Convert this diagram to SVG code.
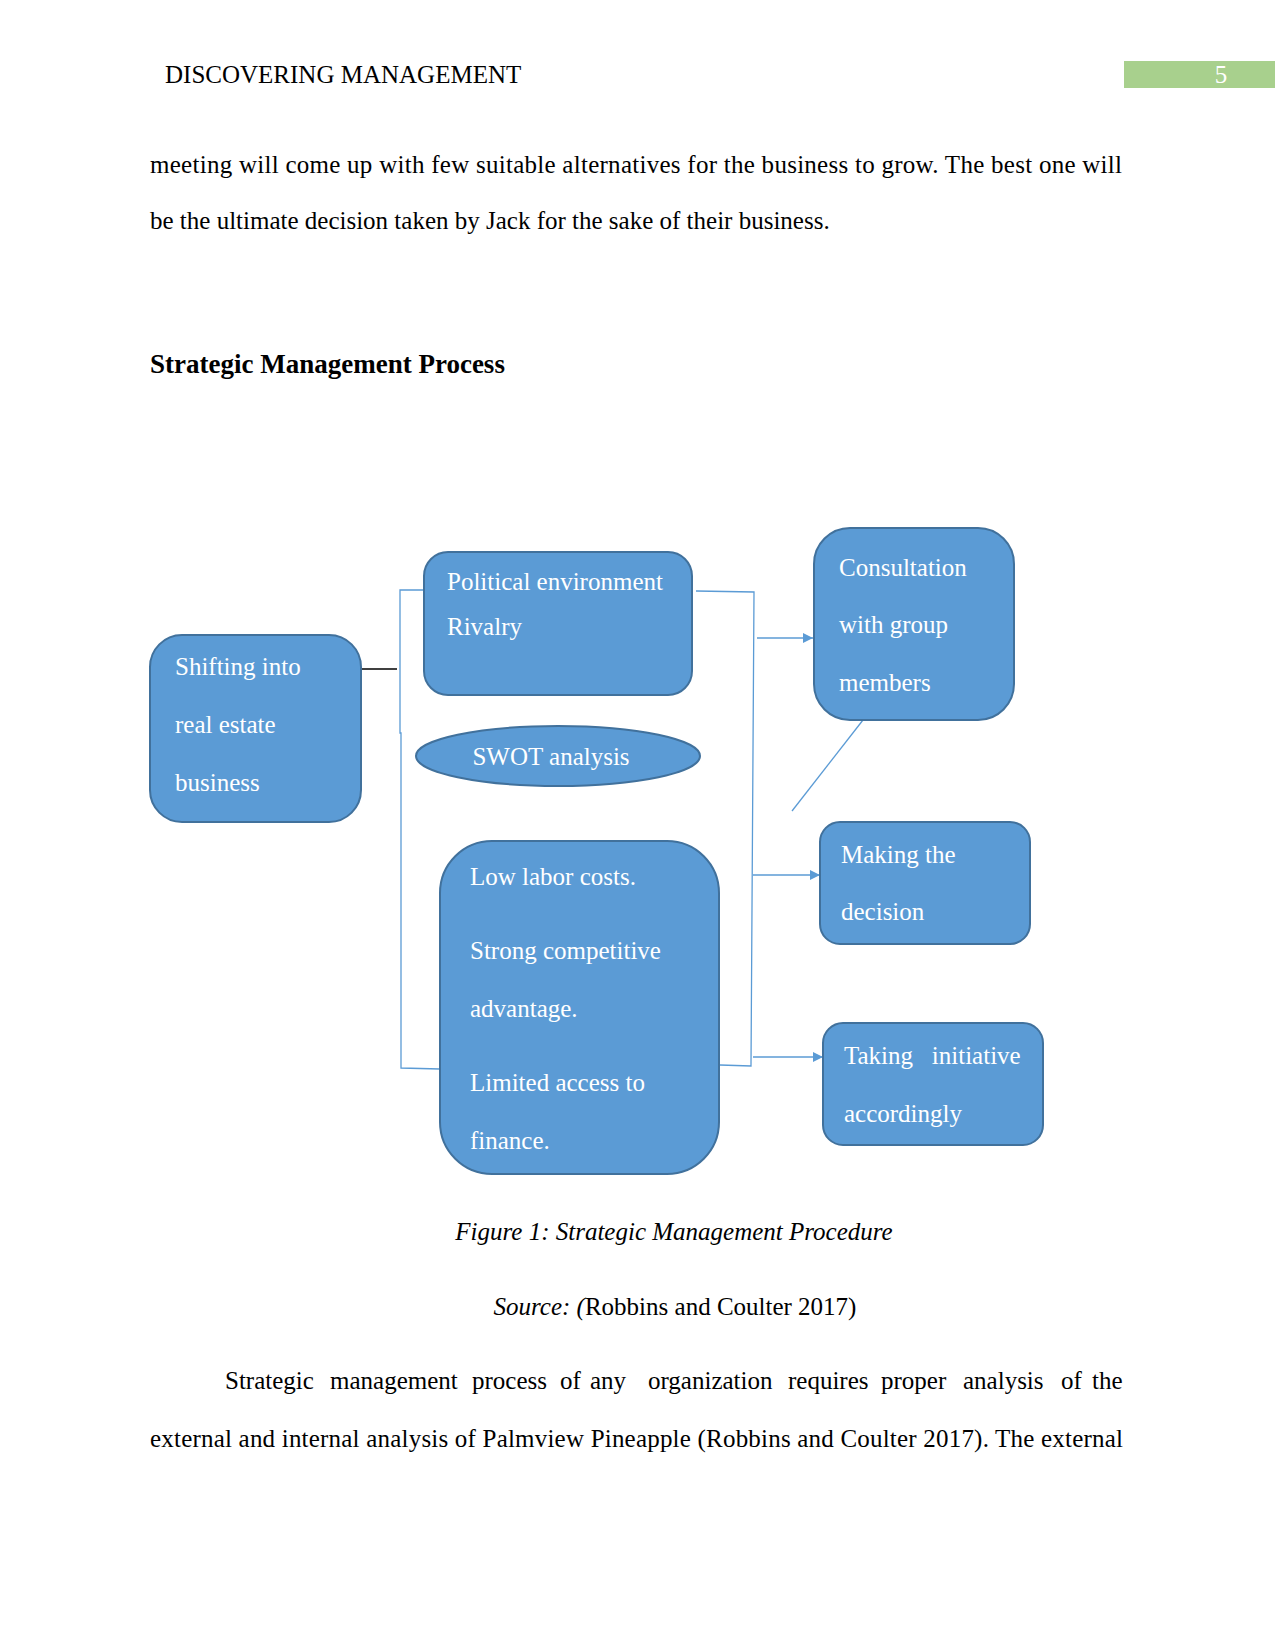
<svg xmlns="http://www.w3.org/2000/svg" width="1275" height="1651" viewBox="0 0 1275 1651">
<style>
.t{font-family:"Liberation Serif","Times New Roman",serif;font-size:25px;fill:#000}
.w{font-family:"Liberation Serif","Times New Roman",serif;font-size:25px;fill:#fff}
.h{font-family:"Liberation Serif","Times New Roman",serif;font-size:27px;font-weight:bold;fill:#000}
.box{fill:#5b9bd5;stroke:#41719c;stroke-width:2}
.ln{fill:none;stroke:#5b9bd5;stroke-width:1.3}
</style>
<defs>
<marker id="ah" viewBox="0 0 10 10" refX="10" refY="5" markerWidth="10" markerHeight="10" markerUnits="userSpaceOnUse" orient="auto">
<path d="M0,0 L10,5 L0,10 z" fill="#5b9bd5"/>
</marker>
</defs>
<rect width="1275" height="1651" fill="#fff"/>
<g id="header">
<text class="t" x="165" y="83">DISCOVERING MANAGEMENT</text>
<rect x="1124" y="61" width="151" height="27" fill="#a8d08d"/>
<text class="w" x="1221" y="83" text-anchor="middle">5</text>
</g>
<g id="body-top">
<text class="t" x="150" y="173" textLength="972" lengthAdjust="spacing">meeting will come up with few suitable alternatives for the business to grow. The best one will</text>
<text class="t" x="150" y="229">be the ultimate decision taken by Jack for the sake of their business.</text>
<text class="h" x="150" y="373">Strategic Management Process</text>
</g>
<g id="connectors">
<line x1="361" y1="669" x2="397" y2="669" stroke="#000" stroke-width="1.3"/>
<polyline class="ln" points="424,590 400,590 400,733 401,733 401,1068 440,1069"/>
<polyline class="ln" points="696,591 754,592 751,1066 720,1065"/>
<line class="ln" x1="757" y1="638" x2="813" y2="638" marker-end="url(#ah)"/>
<line class="ln" x1="753" y1="875" x2="820" y2="875" marker-end="url(#ah)"/>
<line class="ln" x1="753" y1="1057" x2="823" y2="1057" marker-end="url(#ah)"/>
<line class="ln" x1="863" y1="720" x2="792" y2="811"/>
</g>
<g id="shifting">
<rect class="box" x="150" y="635" width="211" height="187" rx="32"/>
<text class="w" x="175" y="675">Shifting into</text>
<text class="w" x="175" y="733">real estate</text>
<text class="w" x="175" y="791">business</text>
</g>
<g id="political">
<rect class="box" x="424" y="552" width="268" height="143" rx="24"/>
<text class="w" x="447" y="590">Political environment</text>
<text class="w" x="447" y="635">Rivalry</text>
</g>
<g id="swot">
<ellipse class="box" cx="558" cy="756" rx="142" ry="30"/>
<text class="w" x="551" y="765" text-anchor="middle">SWOT analysis</text>
</g>
<g id="strengths">
<rect class="box" x="440" y="841" width="279" height="333" rx="52"/>
<text class="w" x="470" y="885">Low labor costs.</text>
<text class="w" x="470" y="959">Strong competitive</text>
<text class="w" x="470" y="1017">advantage.</text>
<text class="w" x="470" y="1091">Limited access to</text>
<text class="w" x="470" y="1149">finance.</text>
</g>
<g id="consultation">
<rect class="box" x="814" y="528" width="200" height="192" rx="36"/>
<text class="w" x="839" y="576">Consultation</text>
<text class="w" x="839" y="633">with group</text>
<text class="w" x="839" y="691">members</text>
</g>
<g id="making">
<rect class="box" x="820" y="822" width="210" height="122" rx="20"/>
<text class="w" x="841" y="863">Making the</text>
<text class="w" x="841" y="920">decision</text>
</g>
<g id="taking">
<rect class="box" x="823" y="1023" width="220" height="122" rx="20"/>
<text class="w" x="844" y="1064" xml:space="preserve">Taking   initiative</text>
<text class="w" x="844" y="1122">accordingly</text>
</g>
<g id="caption">
<text class="t" x="674" y="1240" text-anchor="middle" font-style="italic">Figure 1: Strategic Management Procedure</text>
<text class="t" x="675" y="1315" text-anchor="middle"><tspan font-style="italic">Source: (</tspan>Robbins and Coulter 2017)</text>
</g>
<g id="body-bottom">
<text class="t" y="1389"><tspan x="225">Strategic</tspan><tspan x="330">management</tspan><tspan x="472">process</tspan><tspan x="560">of</tspan><tspan x="590">any</tspan><tspan x="648">organization</tspan><tspan x="788">requires</tspan><tspan x="881">proper</tspan><tspan x="963">analysis</tspan><tspan x="1061">of</tspan><tspan x="1092">the</tspan></text>
<text class="t" x="150" y="1447" textLength="973" lengthAdjust="spacing">external and internal analysis of Palmview Pineapple (Robbins and Coulter 2017). The external</text>
</g>
</svg>
